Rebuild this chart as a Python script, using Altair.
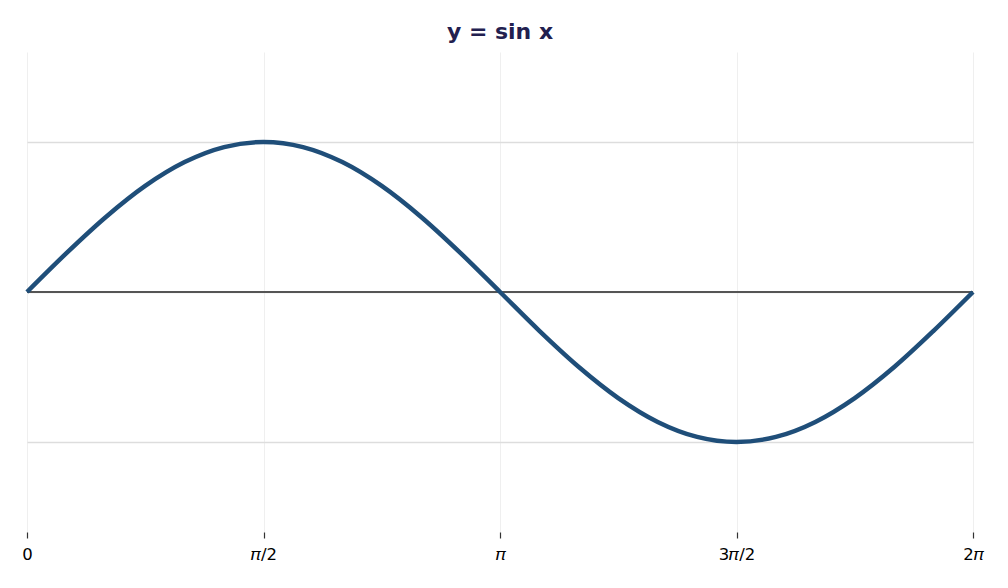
import json
import altair as alt
import pandas as pd

# x positions (radians) and sin values
x_vals = [0.0, 0.262, 0.524, 0.785, 1.047, 1.309, 1.571, 1.833, 2.094, 2.356, 2.618, 2.880,
          3.142, 3.403, 3.665, 3.927, 4.189, 4.451, 4.712, 4.974, 5.236, 5.498, 5.760, 6.021, 6.283]
y_vals = [0.0, 0.259, 0.5, 0.707, 0.866, 0.966, 1.0, 0.966, 0.866, 0.707, 0.5, 0.259,
          0.0, -0.259, -0.5, -0.707, -0.866, -0.966, -1.0, -0.966, -0.866, -0.707, -0.5, -0.259, 0.0]

tick_values = [0.0, 1.5708, 3.1416, 4.7124, 6.2832]
tick_labels = ["0", "\U0001D70B/2", "\U0001D70B", "3\U0001D70B/2", "2\U0001D70B"]
y_grid = [-1, 0, 1]

df = pd.DataFrame({"x": x_vals, "y": y_vals})
zero = pd.DataFrame({"y": [0]})

label_expr = json.dumps(tick_labels, ensure_ascii=False) + "[round(datum.value / 1.5708)]"

xscale = alt.Scale(domain=[0, 6.2832], nice=False, zero=False)
yscale = alt.Scale(domain=[-1.6, 1.6], nice=False)

line = alt.Chart(df).mark_line(color="#1f4e79", strokeWidth=4.5, interpolate="monotone").encode(
    x=alt.X("x:Q", scale=xscale, title=None,
            axis=alt.Axis(values=tick_values, labelExpr=label_expr, grid=True,
                          gridColor="#efefef", gridWidth=1, domain=False,
                          tickColor="#333333", tickSize=6, tickWidth=1.2,
                          labelFontSize=16.5, labelColor="#000000", labelPadding=8,
                          labelFlush=False, labelOverlap=False, labelBound=False,
                          labelFont="DejaVu Sans")),
    y=alt.Y("y:Q", scale=yscale, title=None,
            axis=alt.Axis(values=y_grid, grid=True, gridColor="#dddddd", gridWidth=1.3,
                          labels=False, ticks=False, domain=False)),
)

rule = alt.Chart(zero).mark_rule(color="#555555", strokeWidth=2).encode(
    y=alt.Y("y:Q", scale=yscale)
)

chart = alt.layer(rule, line).properties(
    width=946, height=480,
    autosize=alt.AutoSizeParams(type="none"),
    padding={"left": 19, "top": 44, "right": 20, "bottom": 30},
    title=alt.TitleParams("y = sin x", fontSize=22, fontWeight="bold", color="#22204f",
                          font="DejaVu Sans", anchor="middle", offset=8),
).configure_view(stroke=None)

chart.save("out.html", embed_options={"renderer": "svg", "actions": False})
